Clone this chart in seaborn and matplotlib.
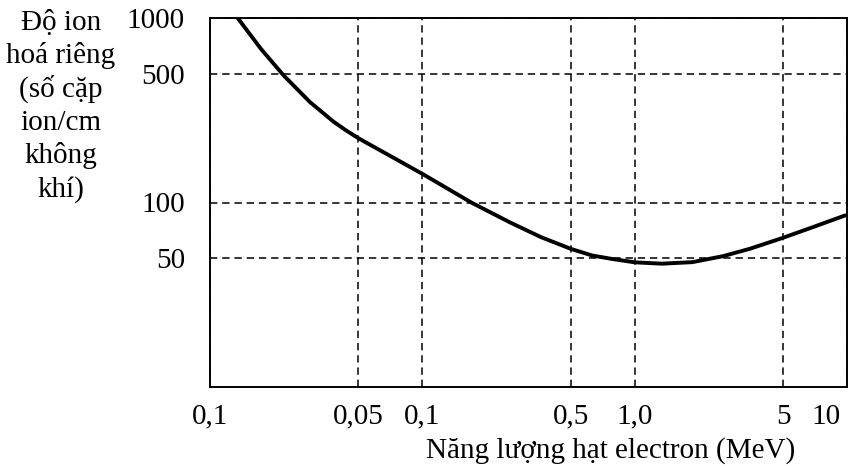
import matplotlib
matplotlib.use("Agg")
import matplotlib.pyplot as plt
import matplotlib.transforms as mtransforms
import seaborn as sns
import pandas as pd

# Specific ionisation of air by electrons vs. electron energy
energy_mev = [0.0135, 0.0174, 0.0222, 0.0295, 0.0382, 0.0437, 0.05, 0.073, 0.1,
              0.17, 0.257, 0.361, 0.5, 0.631, 0.786, 1.0, 1.34, 1.87, 2.61, 3.5,
              5.0, 6.97, 9.8]
ion_pairs_per_cm = [1000, 679, 489, 351, 274, 246, 223, 175, 143,
                    100, 78.3, 65.0, 56.1, 51.6, 49.4, 47.4, 46.6, 47.5, 51.2, 56.2,
                    64.4, 73.8, 85.1]

x_ticks = [0.01, 0.05, 0.1, 0.5, 1.0, 5.0, 10.0]
x_tick_labels = ["0,1", "0,05", "0,1", "0,5", "1,0", "5", "10"]
y_ticks = [50, 100, 500, 1000]
y_tick_labels = ["50", "100", "500", "1000"]

y_title_lines = ["Độ ion", "hoá riêng", "(số cặp", "ion/cm", "không", "khí)"]
x_title = "Năng lượng hạt electron (MeV)"

df = pd.DataFrame({"energy": energy_mev, "ion": ion_pairs_per_cm})

sns.set_style("white")
plt.rcParams["font.family"] = ["Liberation Serif", "DejaVu Serif"]
plt.rcParams["text.color"] = "black"

FS = 21
W, H = 856, 466
fig = plt.figure(figsize=(W / 100, H / 100), dpi=100)
ax = fig.add_axes([210 / W, 1 - 387 / H, (847 - 210) / W, (387 - 18) / H])

sns.lineplot(data=df, x="energy", y="ion", ax=ax, color="black",
             linewidth=2.8, sort=False, estimator=None)

ax.set_xscale("log")
ax.set_yscale("log")
ax.set_xlim(0.01, 10)
ax.set_ylim(10, 1000)

ax.set_xticks(x_ticks)
ax.set_xticklabels(x_tick_labels)
ax.set_yticks(y_ticks)
ax.set_yticklabels(y_tick_labels)
ax.minorticks_off()
ax.tick_params(axis="both", length=0, labelsize=FS, colors="black")
ax.tick_params(axis="x", pad=12)
ax.tick_params(axis="y", pad=18)

# keep the last energy label inside the figure
last = ax.get_xticklabels()[-1]
last.set_ha("right")
last.set_transform(last.get_transform() +
                   mtransforms.ScaledTranslation(-6 / 100, 0, fig.dpi_scale_trans))

ax.grid(True, which="major", color="black", linewidth=1.1,
        linestyle=(0, (4.8, 3.2)))
ax.set_axisbelow(True)

for side in ["left", "right", "top", "bottom"]:
    ax.spines[side].set_visible(True)
    ax.spines[side].set_color("black")
    ax.spines[side].set_linewidth(1.4)

ax.set_xlabel("")
ax.set_ylabel("")

# Axis titles
fig.text(611 / W, 1 - 458 / H, x_title, ha="center", va="baseline", fontsize=FS)
baselines = [30, 63, 97, 130, 163, 197]
for line, yb in zip(y_title_lines, baselines):
    fig.text(61 / W, 1 - yb / H, line, ha="center", va="baseline", fontsize=FS)

fig.savefig("out.png", dpi=100)
